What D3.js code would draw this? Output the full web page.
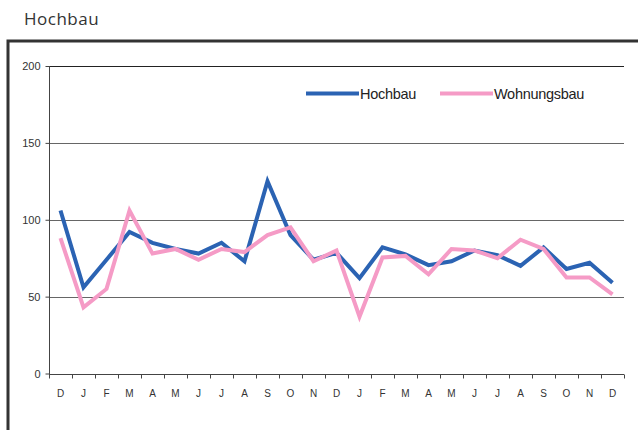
<!DOCTYPE html>
<html>
<head>
<meta charset="utf-8">
<script src="https://cdn.jsdelivr.net/npm/d3@7"></script>
<style>
  body { margin: 0; background: #fff; }
  svg { display: block; }
</style>
</head>
<body>
<div id="chart"></div>
<script>
// month labels, Dec through two full years
const months = ["D","J","F","M","A","M","J","J","A","S","O","N","D","J","F","M","A","M","J","J","A","S","O","N","D"];
const hochbau = [106, 56, 74, 92, 85, 81, 78, 85, 73, 125, 90, 74, 78.5, 62, 82, 77.5, 70.5, 73, 80, 77, 70, 82, 68, 72, 59];
const wohnungsbau = [88, 43, 55, 106, 78, 81, 74, 81, 79, 90, 95, 73, 80, 37, 75.5, 76.5, 64.5, 81, 80, 75, 87, 81, 62.5, 62.5, 51.5];
const yTicks = [0, 50, 100, 150, 200];
const seriesNames = ["Hochbau", "Wohnungsbau"];
const colors = ["#2b63b3", "#f59bc6"];

const width = 638, height = 430;
const plotL = 49, plotR = 624, plotT = 66, plotB = 373.5;

const svg = d3.select("#chart").append("svg")
  .attr("width", width)
  .attr("height", height);

// page title
svg.append("text")
  .attr("x", 24)
  .attr("y", 25)
  .attr("font-family", "Open Sans, sans-serif")
  .attr("font-size", "17px")
  .attr("letter-spacing", "0.5px")
  .attr("fill", "#333")
  .text("Hochbau");

// frame (left + top thick border)
svg.append("path")
  .attr("d", `M8,${height} L8,41 L${width},41`)
  .attr("fill", "none")
  .attr("stroke", "#333")
  .attr("stroke-width", 3);

const x = d3.scaleBand()
  .domain(d3.range(months.length))
  .range([plotL, plotR]);

const y = d3.scaleLinear()
  .domain([0, 200])
  .range([plotB, plotT]);

// gridlines
svg.append("g")
  .selectAll("line")
  .data(yTicks.filter(d => d > 0))
  .join("line")
  .attr("x1", plotL)
  .attr("x2", plotR)
  .attr("y1", d => Math.round(y(d)) + 0.5)
  .attr("y2", d => Math.round(y(d)) + 0.5)
  .attr("stroke", d => d === 200 ? "#222" : "#666")
  .attr("stroke-width", 1.2);

// y axis
const yAxis = svg.append("g")
  .attr("transform", `translate(${plotL + 0.5},0)`)
  .call(d3.axisLeft(y).tickValues(yTicks).tickSize(4).tickPadding(5));
yAxis.select(".domain").attr("stroke", "#444").attr("d", `M0,${plotT}V${plotB + 3}`);
yAxis.selectAll(".tick line").attr("stroke", "#444");
yAxis.selectAll("text")
  .attr("font-family", "Liberation Sans, Arial, sans-serif")
  .attr("font-size", "11px")
  .attr("fill", "#333");

// x axis: labels centred in bands, ticks on band boundaries
const xAxis = svg.append("g")
  .attr("transform", `translate(0,${Math.round(plotB) + 0.5})`)
  .call(d3.axisBottom(x).tickSize(0).tickPadding(15).tickFormat(i => months[i]));
xAxis.select(".domain").attr("stroke", "#444").attr("d", `M${plotL},0H${plotR}`);
xAxis.selectAll("text")
  .attr("font-family", "Liberation Sans, Arial, sans-serif")
  .attr("font-size", "10px")
  .attr("fill", "#333");
xAxis.selectAll("line.bound")
  .data(d3.range(months.length + 1))
  .join("line")
  .attr("class", "bound")
  .attr("x1", i => Math.round(i < months.length ? x(i) : plotR) + 0.5)
  .attr("x2", i => Math.round(i < months.length ? x(i) : plotR) + 0.5)
  .attr("y1", 0)
  .attr("y2", 4)
  .attr("stroke", "#444");

// lines
const line = d3.line()
  .x((d, i) => x(i) + x.bandwidth() / 2)
  .y(d => y(d));

[hochbau, wohnungsbau].forEach((data, k) => {
  svg.append("path")
    .datum(data)
    .attr("d", line)
    .attr("fill", "none")
    .attr("stroke", colors[k])
    .attr("stroke-width", 4)
    .attr("stroke-linejoin", "miter");
});

// legend
const legendX = [306, 440];
seriesNames.forEach((name, k) => {
  const g = svg.append("g").attr("transform", `translate(${legendX[k]},93.5)`);
  g.append("line")
    .attr("x1", 0).attr("x2", 53)
    .attr("stroke", colors[k])
    .attr("stroke-width", 4);
  g.append("text")
    .attr("x", 54)
    .attr("y", 5)
    .attr("font-family", "Liberation Sans, Arial, sans-serif")
    .attr("font-size", "14.5px")
    .attr("letter-spacing", "-0.3px")
    .attr("fill", "#222")
    .text(name);
});
</script>
</body>
</html>
